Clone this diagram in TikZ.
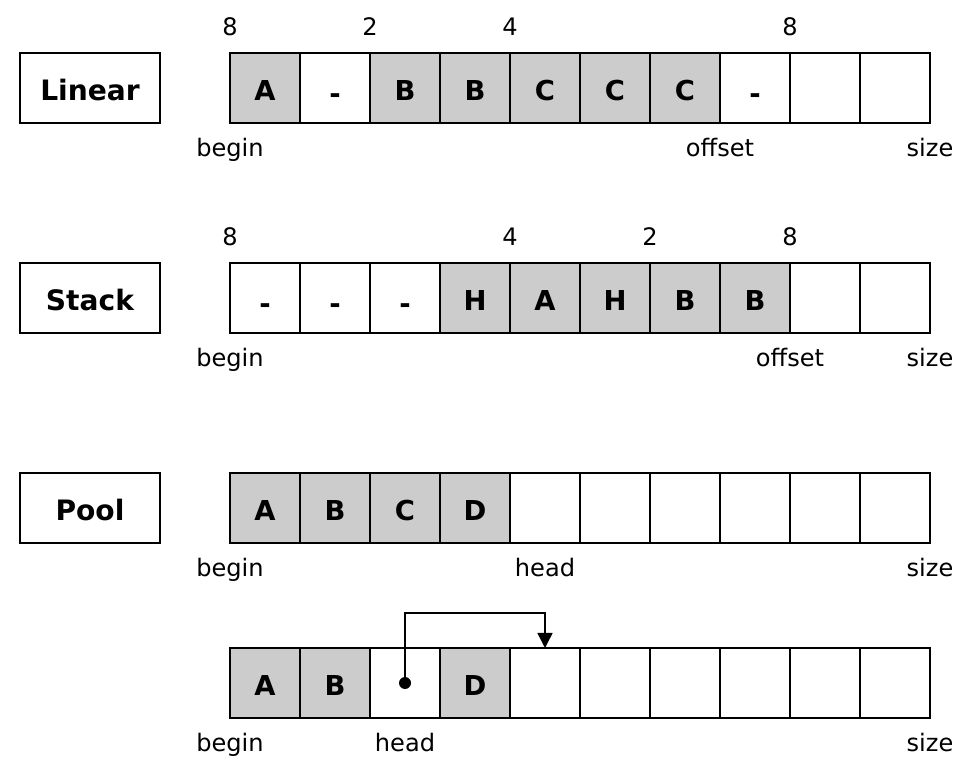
\documentclass[tikz,border=0pt]{standalone}
\usepackage{fontspec}
\setmainfont{DejaVu Sans}
\usepackage{tikz}
\usetikzlibrary{arrows.meta, positioning, calc}
\definecolor{cellgray}{RGB}{204,204,204}
\definecolor{mydark}{RGB}{0,0,0}
\newcommand{\gap}{\raisebox{-0.06cm}{-}}
\tikzset{
  kind/.style={rectangle, draw=mydark, fill=white, minimum width=2.8cm,
    minimum height=1.4cm, line width=1pt, outer sep=0pt,
    text height=0.5cm, text depth=0pt,
    font=\fontsize{16}{19}\selectfont\bfseries},
  cell/.style={rectangle, draw=mydark, fill=white, minimum size=1.4cm,
    line width=1pt, outer sep=0pt, inner sep=0pt,
    text height=0.52cm, text depth=0pt,
    font=\fontsize{15.6}{19}\selectfont\bfseries},
  used/.style={cell, fill=cellgray},
  numlbl/.style={anchor=base, yshift=0.34cm, inner sep=0pt,
    font=\fontsize{13.7}{16}\selectfont},
  poslbl/.style={anchor=base, yshift=-0.68cm, inner sep=0pt,
    font=\fontsize{13.7}{16}\selectfont},
  ptr/.style={-{Triangle[length=0.3cm, width=0.3cm]}, line width=0.8pt, color=mydark}
}
\begin{document}
\begin{tikzpicture}
  \useasboundingbox (0,0) rectangle (19.34,15.5);

  % --- row kinds ---
  \node[kind] (linear) at (1.8,13.74) {Linear};
  \node[kind, below=2.8cm of linear] (stack) {Stack};
  \node[kind, below=2.8cm of stack] (pool) {Pool};

  % --- Linear ---
  \foreach \t/\s [count=\i] in {A/used,\gap/cell,B/used,B/used,C/used,C/used,C/used,\gap/cell,/cell,/cell}
    \node[\s] (L\i) at ({5.3+1.4*(\i-1)},13.74) {\t};
  \node[numlbl] (l8a) at (L1.north west) {8};
  \node[numlbl] (l2) at (L3.north west) {2};
  \node[numlbl] (l4) at (L5.north west) {4};
  \node[numlbl] (l8b) at (L9.north west) {8};
  \node[poslbl] (lbegin) at (L1.south west) {begin};
  \node[poslbl] (loffset) at (L7.south east) {offset};
  \node[poslbl] (lsize) at (L10.south east) {size};

  % --- Stack ---
  \foreach \t/\s [count=\i] in {\gap/cell,\gap/cell,\gap/cell,H/used,A/used,H/used,B/used,B/used,/cell,/cell}
    \node[\s] (S\i) at ({5.3+1.4*(\i-1)},9.54) {\t};
  \node[numlbl] (s8a) at (S1.north west) {8};
  \node[numlbl] (s4) at (S5.north west) {4};
  \node[numlbl] (s2) at (S7.north west) {2};
  \node[numlbl] (s8b) at (S9.north west) {8};
  \node[poslbl] (sbegin) at (S1.south west) {begin};
  \node[poslbl] (soffset) at (S8.south east) {offset};
  \node[poslbl] (ssize) at (S10.south east) {size};

  % --- Pool ---
  \foreach \t/\s [count=\i] in {A/used,B/used,C/used,D/used,/cell,/cell,/cell,/cell,/cell,/cell}
    \node[\s] (P\i) at ({5.3+1.4*(\i-1)},5.34) {\t};
  \node[poslbl] (pbegin) at (P1.south west) {begin};
  \node[poslbl] (phead) at (P5.south) {head};
  \node[poslbl] (psize) at (P10.south east) {size};

  % --- Pool after free ---
  \foreach \t/\s [count=\i] in {A/used,B/used,/cell,D/used,/cell,/cell,/cell,/cell,/cell,/cell}
    \node[\s] (Q\i) at ({5.3+1.4*(\i-1)},1.84) {\t};
  \node[poslbl] (qbegin) at (Q1.south west) {begin};
  \node[poslbl] (qhead) at (Q3.south) {head};
  \node[poslbl] (qsize) at (Q10.south east) {size};

  \fill[mydark] (Q3.center) circle (0.12cm);
  \coordinate (turn) at ($(Q5.north)+(0,0.7)$);
  \draw[ptr] (Q3.center) |- (turn) -- (Q5.north);
\end{tikzpicture}
\end{document}
